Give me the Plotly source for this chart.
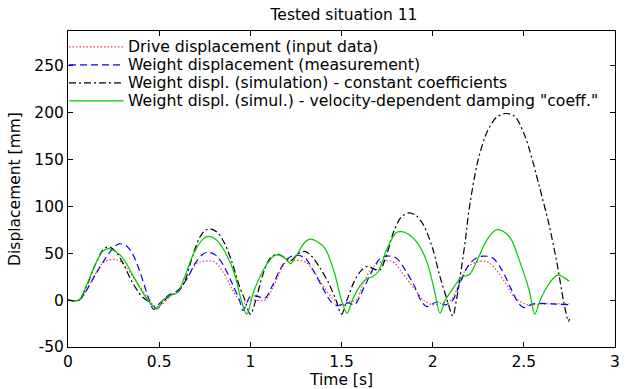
import plotly.graph_objects as go

# ---- data ----
t_drive = [0, 0.06, 0.1, 0.15, 0.2, 0.27, 0.32, 0.38, 0.44, 0.48, 0.52, 0.56, 0.6, 0.65, 0.7, 0.73,
           0.8, 0.85, 0.9, 0.94, 0.97, 1.0, 1.08, 1.12, 1.17, 1.2, 1.3, 1.35, 1.4, 1.45, 1.5, 1.55,
           1.58, 1.62, 1.67, 1.72, 1.78, 1.83, 1.9, 1.95, 2.0, 2.05, 2.1, 2.14, 2.19, 2.25, 2.3, 2.35,
           2.4, 2.45, 2.52, 2.6, 2.75]
v_drive = [0, 0, 10, 28, 41, 43, 35, 18, 2, -7, -4, 4, 9, 22, 38, 41,
           41, 30, 12, 0, -3, 0, 0, 12, 33, 41, 41, 30, 15, 2, -5, -1,
           0, 18, 35, 41, 41, 30, 12, 0, -5, -3, 0, 15, 35, 41, 41, 32,
           18, 3, -5, -4, -4]

t_meas = [0, 0.06, 0.1, 0.15, 0.2, 0.25, 0.28, 0.32, 0.36, 0.4, 0.44, 0.47, 0.5, 0.55, 0.6, 0.65,
          0.7, 0.74, 0.77, 0.81, 0.85, 0.9, 0.94, 0.96, 1.0, 1.04, 1.08, 1.12, 1.17, 1.21, 1.25, 1.3,
          1.35, 1.4, 1.44, 1.48, 1.51, 1.54, 1.57, 1.62, 1.67, 1.71, 1.75, 1.8, 1.85, 1.9, 1.94, 1.97,
          2.02, 2.07, 2.11, 2.15, 2.2, 2.24, 2.28, 2.33, 2.38, 2.43, 2.47, 2.5, 2.55, 2.65, 2.75]
v_meas = [0, 0, 10, 27, 43, 56, 60, 58, 47, 27, 3, -10, -4, 5, 10, 22,
          40, 49, 51, 48, 38, 18, 0, -11, 4, 4, 2, 15, 35, 45, 48, 45,
          30, 12, -1, -6, -4, -3, -5, 12, 32, 44, 47, 45, 32, 15, -2, -7,
          -2, -5, 0, 18, 38, 45, 47, 45, 32, 12, -3, -8, -4, -4, -5]

t_const = [0, 0.06, 0.1, 0.15, 0.19, 0.22, 0.26, 0.3, 0.35, 0.4, 0.43, 0.46, 0.49, 0.52, 0.56, 0.6,
           0.64, 0.68, 0.72, 0.75, 0.78, 0.82, 0.86, 0.9, 0.94, 0.97, 1.0, 1.03, 1.07, 1.11, 1.15, 1.19,
           1.22, 1.26, 1.3, 1.34, 1.38, 1.43, 1.47, 1.5, 1.53, 1.57, 1.61, 1.645, 1.68, 1.71, 1.75, 1.79,
           1.83, 1.87, 1.91, 1.95, 2.0, 2.04, 2.08, 2.11, 2.13, 2.15, 2.18, 2.2, 2.25, 2.3, 2.35, 2.4,
           2.45, 2.5, 2.53, 2.58, 2.64, 2.685, 2.717, 2.745, 2.75]
v_const = [0, 0, 14, 38, 53, 57, 52, 40, 20, 5, 0, -5, -9, -2, 5, 8,
           20, 45, 66, 74, 76, 72, 60, 40, 15, 0, -15, 0, 28, 45, 49, 45,
           42, 49, 52, 46, 35, 18, 0, -15, 0, 20, 32, 36, 33, 32, 50, 75,
           89, 93, 90, 80, 55, 25, 0, -17, 0, 24, 65, 97, 150, 180, 195, 199,
           196, 178, 161, 125, 79, 36, 0, -23, -20]

t_vel = [0, 0.06, 0.1, 0.15, 0.19, 0.22, 0.26, 0.3, 0.36, 0.42, 0.45, 0.49, 0.52, 0.56, 0.6, 0.64,
         0.69, 0.74, 0.77, 0.81, 0.85, 0.91, 0.95, 0.98, 1.02, 1.08, 1.13, 1.16, 1.2, 1.22, 1.26, 1.3,
         1.33, 1.37, 1.41, 1.46, 1.5, 1.53, 1.56, 1.6, 1.64, 1.67, 1.7, 1.75, 1.8, 1.83, 1.87, 1.92,
         1.97, 2.01, 2.04, 2.07, 2.12, 2.16, 2.2, 2.25, 2.3, 2.35, 2.39, 2.43, 2.48, 2.53, 2.56, 2.59,
         2.63, 2.67, 2.69, 2.72, 2.75]
v_vel = [0, 0, 15, 38, 52, 55, 52, 45, 25, 5, -3, -9, 0, 5, 8, 25,
         50, 65, 68, 65, 55, 30, 0, -15, 10, 35, 47, 48, 43, 39, 50, 62,
         65, 62, 55, 30, 0, -14, 0, 15, 23, 25, 30, 55, 72, 73, 70, 60,
         40, 10, -14, 0, 15, 25, 27, 45, 65, 75, 73, 65, 40, 10, -15, 0,
         15, 25, 27, 24, 20]

names = ["Drive displacement (input data)",
         "Weight displacement (measurement)",
         "Weight displ. (simulation) - constant coefficients",
         "Weight displ. (simul.) - velocity-dependent damping \"coeff.\""]
colors = ["#ff3b3b", "#0000ff", "#000000", "#00c800"]
dashes = ["1.5px,2px", "7px,4px", "7px,3px,2px,3px", "solid"]

x_ticks = [0, 0.5, 1, 1.5, 2, 2.5, 3]
y_ticks = [-50, 0, 50, 100, 150, 200, 250]

series = [(t_drive, v_drive), (t_meas, v_meas), (t_const, v_const), (t_vel, v_vel)]

FONT = "DejaVu Sans, Liberation Sans, Arial, sans-serif"
FS = 15.5
fig = go.Figure()
for (tx, vy), nm, c, d in zip(series, names, colors, dashes):
    fig.add_trace(go.Scatter(x=tx, y=vy, mode="lines", name=nm,
                             line=dict(color=c, dash=d, width=1.2, shape="spline", smoothing=0.9),
                             showlegend=False))

# manual legend (top-left inside axes, no box)
L, R, T, B = 68, 620, 31, 348
W, H = R - L, B - T
rows = [47, 65, 83, 101]
for nm, c, d, py in zip(names, colors, dashes, rows):
    yp = (B - py) / H
    fig.add_shape(type="line", xref="paper", yref="paper",
                  x0=(69 - L) / W, x1=(124 - L) / W, y0=yp, y1=yp,
                  line=dict(color=c, dash=d, width=1.2))
    fig.add_annotation(xref="paper", yref="paper", x=(128 - L) / W, y=yp,
                       text=nm, showarrow=False, xanchor="left", yanchor="middle",
                       borderpad=0,
                       font=dict(family=FONT, size=15.7, color="black"))

axis_common = dict(showline=True, linecolor="black", linewidth=1, mirror="ticks",
                   ticks="inside", ticklen=5, tickcolor="black", showgrid=False,
                   zeroline=False, tickfont=dict(family=FONT, size=FS, color="black"))
fig.update_layout(
    width=626, height=389,
    margin=dict(l=L, r=626 - R, t=T, b=389 - B),
    paper_bgcolor="white", plot_bgcolor="white",
    title=dict(text="Tested situation 11", x=(L + R) / 2 / 626, xanchor="center",
               y=1 - 15 / 389, yanchor="middle",
               font=dict(family=FONT, size=FS, color="black")),
    xaxis=dict(range=[0, 3], tickvals=x_ticks, ticktext=[f"{v:g}" for v in x_ticks],
               title=dict(text="Time [s]", standoff=2, font=dict(family=FONT, size=FS, color="black")),
               **axis_common),
    yaxis=dict(range=[-50, 287], tickvals=y_ticks, ticktext=[str(v) for v in y_ticks],
               title=dict(text="Displacement [mm]", standoff=9, font=dict(family=FONT, size=FS, color="black")),
               **axis_common),
)
fig.write_html("out.html")
